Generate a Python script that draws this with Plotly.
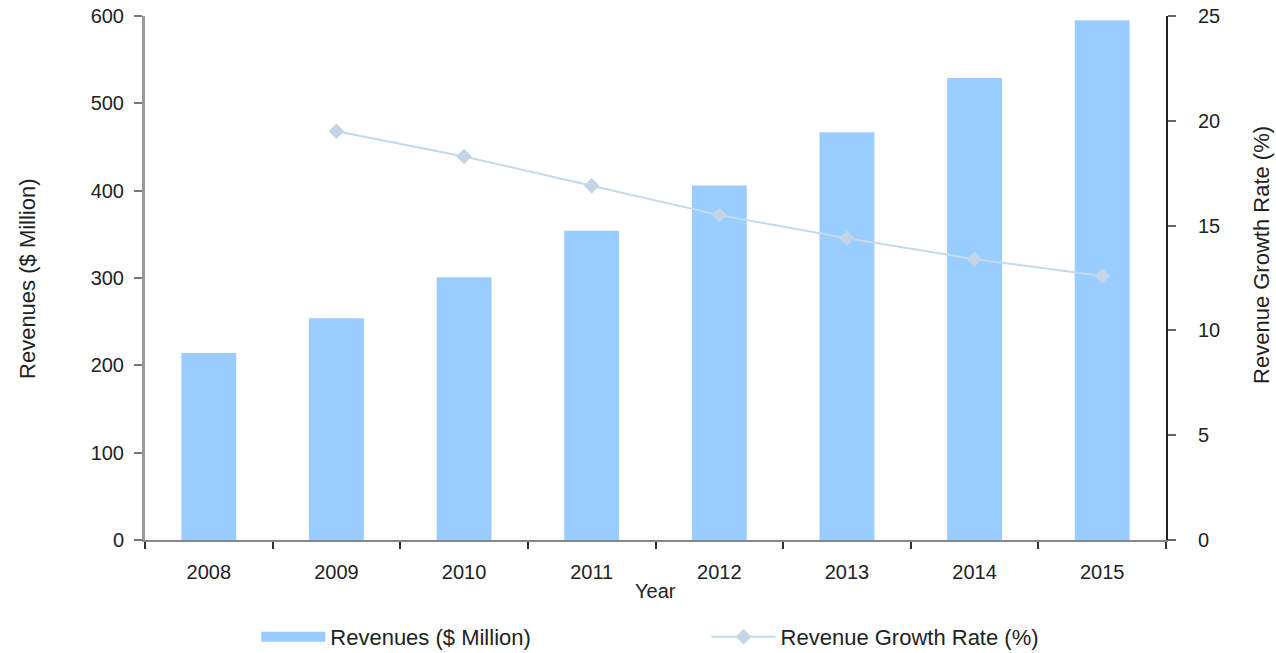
import plotly.graph_objects as go

years = ["2008", "2009", "2010", "2011", "2012", "2013", "2014", "2015"]
revenues = [214, 254, 301, 354, 406, 467, 529, 595]
growth = [None, 19.5, 18.3, 16.9, 15.5, 14.4, 13.4, 12.6]
left_ticks = [0, 100, 200, 300, 400, 500, 600]
right_ticks = [0, 5, 10, 15, 20, 25]

FONT = "Liberation Sans, Arial, sans-serif"
TXT = "#222222"
BAR = "#99ccff"
LINE = "#c6d9ec"

W, H = 1276, 653

fig = go.Figure()
fig.add_trace(go.Bar(x=years, y=revenues, marker=dict(color=BAR, line=dict(width=0)),
                     name="Revenues ($ Million)", showlegend=False, yaxis="y"))
# legend entry for bars (wide swatch like the reference)
fig.add_trace(go.Scatter(x=[None], y=[None], mode="lines", line=dict(color=BAR, width=15),
                         name="Revenues ($ Million)", yaxis="y", legend="legend"))
fig.add_trace(go.Scatter(x=years, y=growth, mode="lines+markers", name="Revenue Growth Rate (%)",
                         line=dict(color=LINE, width=2),
                         marker=dict(symbol="diamond", size=12, color="#c2d4e6"),
                         yaxis="y2", connectgaps=False, legend="legend2"))

legend_common = dict(orientation="h", yref="container", y=1 - 637 / H, yanchor="middle",
                     xanchor="left", font=dict(size=22, family=FONT, color=TXT),
                     itemwidth=64, bgcolor="rgba(0,0,0,0)")

fig.update_layout(
    width=W, height=H,
    margin=dict(l=145, r=110, t=16, b=113, autoexpand=False),
    paper_bgcolor="white", plot_bgcolor="white",
    font=dict(family=FONT, color=TXT, size=20),
    bargap=0.57,
    showlegend=True,
    legend=dict(x=0.109, **legend_common),
    legend2=dict(x=0.55, **legend_common),
    xaxis=dict(type="category", showgrid=False, showline=True, linecolor="#888888", linewidth=2,
               ticks="outside", tickson="boundaries", ticklen=7, tickwidth=2, tickcolor="#333333",
               ticklabelstandoff=13, automargin=False,
               tickfont=dict(size=20, family=FONT, color=TXT)),
    yaxis=dict(range=[0, 600], tickvals=left_ticks, showgrid=False, zeroline=False,
               showline=True, linecolor="#999999", linewidth=3, automargin=False,
               ticks="outside", ticklen=8, tickwidth=2, tickcolor="#777777",
               ticklabeloverflow="allow",
               ticklabelstandoff=6, tickfont=dict(size=20, family=FONT, color=TXT)),
    yaxis2=dict(range=[0, 25], tickvals=right_ticks, overlaying="y", side="right",
                showgrid=False, zeroline=False, showline=True, linecolor="#222222", linewidth=2,
                automargin=False, ticklabeloverflow="allow",
                ticks="outside", ticklen=8, tickwidth=2, tickcolor="#666666",
                ticklabelstandoff=18, tickfont=dict(size=20, family=FONT, color=TXT)),
    annotations=[
        dict(text="Revenues ($ Million)", xref="paper", yref="paper", x=-0.1156, y=0.5,
             xanchor="center", yanchor="middle",
             textangle=-90, showarrow=False, font=dict(size=22, family=FONT, color=TXT)),
        dict(text="Revenue Growth Rate (%)", xref="paper", yref="paper", x=1.094, y=0.544,
             xanchor="center", yanchor="middle",
             textangle=-90, showarrow=False, font=dict(size=22, family=FONT, color=TXT)),
        dict(text="Year", xref="paper", yref="paper", x=0.5, y=-0.097,
             xanchor="center", yanchor="middle",
             showarrow=False, font=dict(size=20, family=FONT, color=TXT)),
    ],
)

fig.write_html("out.html", config={"displayModeBar": False},
               post_script="document.body.style.margin='0';document.body.style.overflow='hidden';")
